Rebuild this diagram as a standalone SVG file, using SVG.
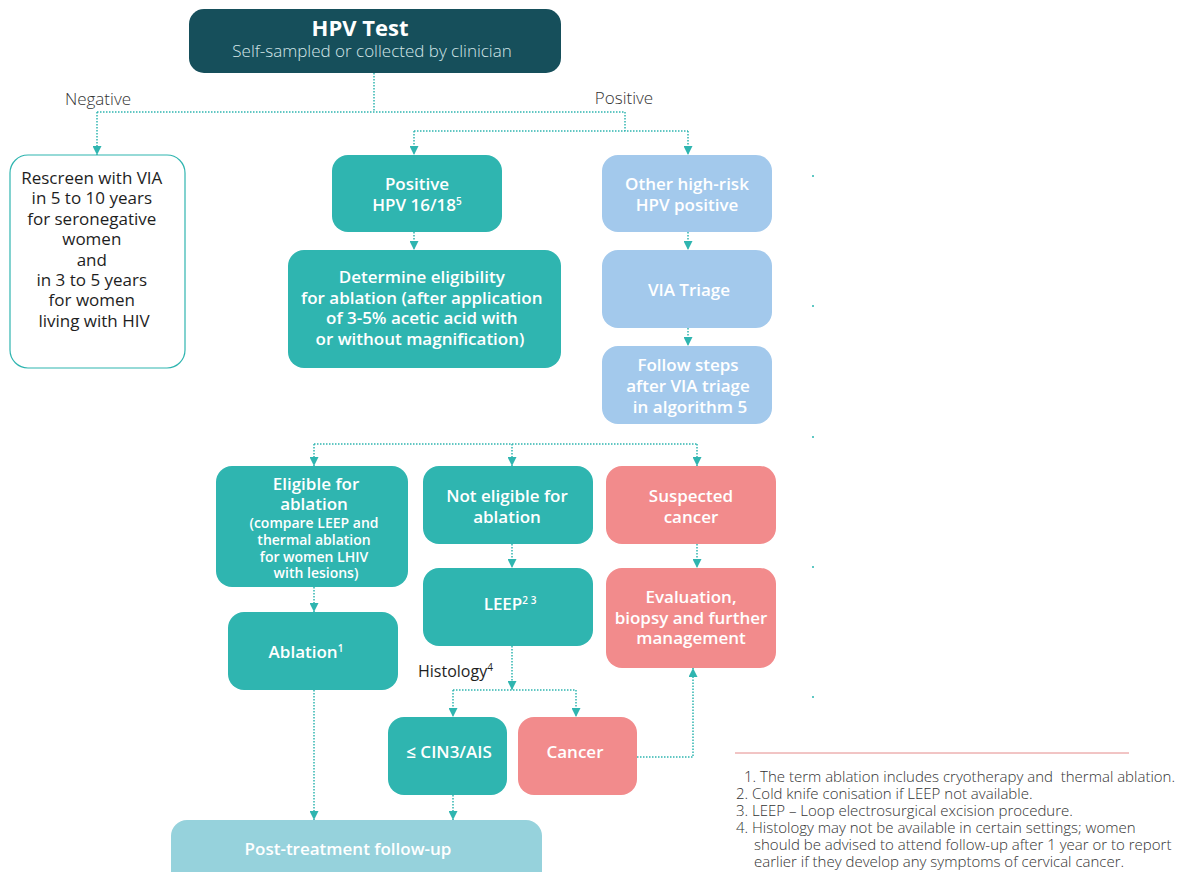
<svg xmlns="http://www.w3.org/2000/svg" width="1187" height="872" viewBox="0 0 1187 872">
  <style>
    text { font-family: "Open Sans", "Liberation Sans", sans-serif; }
    .box-text { fill: #ffffff; font-size: 17px; font-weight: 600; text-anchor: middle; }
    .small-text { fill: #ffffff; font-size: 14px; font-weight: 600; text-anchor: middle; }
    .dark-text { fill: #1e1e1e; font-size: 17px; text-anchor: middle; }
    .label { fill: #333333; font-size: 17px; font-weight: 300; text-anchor: middle; }
    .note { fill: #333333; font-size: 15px; font-weight: 300; }
    .teal { fill: #2fb5b0; }
    .blue { fill: #a3c9ec; }
    .pink { fill: #f28b8c; }
    .conn { fill: none; stroke: #2fb5b0; stroke-width: 1.5; stroke-dasharray: 1.5 1.5; }
    .sup { font-size: 10px; }
  </style>
  <defs>
    <marker id="arrow" viewBox="0 0 10 10" refX="10" refY="5" markerWidth="11" markerHeight="9" markerUnits="userSpaceOnUse" orient="auto">
      <path d="M0,0 L10,5 L0,10 z" fill="#2fb5b0"/>
    </marker>
  </defs>

  <rect width="1187" height="872" fill="#ffffff"/>

  <!-- connectors -->
  <g id="connectors">
    <path class="conn" d="M374,73 V112 M97,112 H625"/>
    <path class="conn" d="M97,112 V155" marker-end="url(#arrow)"/>
    <path class="conn" d="M625,112 V131 M414,131 H688"/>
    <path class="conn" d="M414,131 V155" marker-end="url(#arrow)"/>
    <path class="conn" d="M688,131 V155" marker-end="url(#arrow)"/>
    <path class="conn" d="M414,232 V250" marker-end="url(#arrow)"/>
    <path class="conn" d="M688,232 V250" marker-end="url(#arrow)"/>
    <path class="conn" d="M688,328 V346" marker-end="url(#arrow)"/>
    <path class="conn" d="M314,444 H697"/>
    <path class="conn" d="M314,444 V466" marker-end="url(#arrow)"/>
    <path class="conn" d="M512,444 V466" marker-end="url(#arrow)"/>
    <path class="conn" d="M697,444 V466" marker-end="url(#arrow)"/>
    <path class="conn" d="M314,587 V612" marker-end="url(#arrow)"/>
    <path class="conn" d="M512,544 V568" marker-end="url(#arrow)"/>
    <path class="conn" d="M697,544 V568" marker-end="url(#arrow)"/>
    <path class="conn" d="M512,646 V690" marker-end="url(#arrow)"/>
    <path class="conn" d="M453,690 H576"/>
    <path class="conn" d="M453,690 V717" marker-end="url(#arrow)"/>
    <path class="conn" d="M576,690 V717" marker-end="url(#arrow)"/>
    <path class="conn" d="M637,757 H693 V668" marker-end="url(#arrow)"/>
    <path class="conn" d="M314,690 V820" marker-end="url(#arrow)"/>
    <path class="conn" d="M453,795 V820" marker-end="url(#arrow)"/>
  </g>

  <!-- branch labels -->
  <text class="label" x="98" y="105">Negative</text>
  <text class="label" x="624" y="104">Positive</text>

  <g id="hpv-test">
    <rect x="189" y="9" width="372" height="64" rx="15" fill="#164f5b"/>
    <text x="360" y="36" fill="#ffffff" font-size="22" font-weight="700" text-anchor="middle">HPV Test</text>
    <text x="372" y="57" fill="#d4e6e8" font-size="17" font-weight="300" text-anchor="middle">Self-sampled or collected by clinician</text>
  </g>

  <g id="rescreen">
    <rect x="10" y="155" width="175" height="213" rx="18" fill="#ffffff" stroke="#2fb5b0" stroke-width="1.2"/>
    <text class="dark-text" x="94">
      <tspan x="94" y="184">Rescreen with VIA</tspan>
      <tspan x="94" y="204">in 5 to 10 years</tspan>
      <tspan x="94" y="225">for seronegative</tspan>
      <tspan x="94" y="245">women</tspan>
      <tspan x="94" y="266">and</tspan>
      <tspan x="94" y="286">in 3 to 5 years</tspan>
      <tspan x="94" y="306">for women</tspan>
      <tspan x="94" y="327">living with HIV</tspan>
    </text>
  </g>

  <g id="positive-16-18">
    <rect class="teal" x="332" y="155" width="170" height="77" rx="16"/>
    <text class="box-text"><tspan x="417" y="190">Positive</tspan><tspan x="417" y="211">HPV 16/18<tspan class="sup" dy="-6">5</tspan></tspan></text>
  </g>

  <g id="determine-eligibility">
    <rect class="teal" x="288" y="250" width="273" height="118" rx="16"/>
    <text class="box-text">
      <tspan x="424" y="283">Determine eligibility</tspan>
      <tspan x="424" y="304">for ablation (after application</tspan>
      <tspan x="424" y="324">of 3-5% acetic acid with</tspan>
      <tspan x="420" y="345">or without magnification)</tspan>
    </text>
  </g>

  <g id="other-high-risk">
    <rect class="blue" x="602" y="155" width="170" height="77" rx="16"/>
    <text class="box-text"><tspan x="687" y="190">Other high-risk</tspan><tspan x="687" y="211">HPV positive</tspan></text>
  </g>

  <g id="via-triage">
    <rect class="blue" x="602" y="250" width="170" height="78" rx="16"/>
    <text class="box-text" x="689" y="296">VIA Triage</text>
  </g>

  <g id="follow-steps">
    <rect class="blue" x="602" y="346" width="170" height="78" rx="16"/>
    <text class="box-text"><tspan x="688" y="371">Follow steps</tspan><tspan x="688" y="392">after VIA triage</tspan><tspan x="690" y="413">in algorithm 5</tspan></text>
  </g>

  <g id="eligible">
    <rect class="teal" x="216" y="466" width="192" height="121" rx="16"/>
    <text class="box-text"><tspan x="316" y="490">Eligible for</tspan><tspan x="314" y="510">ablation</tspan></text>
    <text class="small-text"><tspan x="314" y="528">(compare LEEP and</tspan><tspan x="314" y="545">thermal ablation</tspan><tspan x="314" y="562">for women LHIV</tspan><tspan x="316" y="578">with lesions)</tspan></text>
  </g>

  <g id="not-eligible">
    <rect class="teal" x="423" y="466" width="170" height="78" rx="16"/>
    <text class="box-text"><tspan x="507" y="502">Not eligible for</tspan><tspan x="507" y="523">ablation</tspan></text>
  </g>

  <g id="suspected-cancer">
    <rect class="pink" x="606" y="466" width="170" height="78" rx="16"/>
    <text class="box-text"><tspan x="691" y="502">Suspected</tspan><tspan x="691" y="523">cancer</tspan></text>
  </g>

  <g id="ablation">
    <rect class="teal" x="228" y="612" width="170" height="78" rx="16"/>
    <text class="box-text" x="306" y="658">Ablation<tspan class="sup" dy="-6">1</tspan></text>
  </g>

  <g id="leep">
    <rect class="teal" x="423" y="568" width="170" height="78" rx="16"/>
    <text class="box-text" x="510" y="610">LEEP<tspan class="sup" dy="-6">2 3</tspan></text>
  </g>

  <g id="evaluation">
    <rect class="pink" x="606" y="568" width="170" height="100" rx="16"/>
    <text class="box-text"><tspan x="691" y="603">Evaluation,</tspan><tspan x="691" y="624">biopsy and further</tspan><tspan x="691" y="644">management</tspan></text>
  </g>

  <text x="418" y="677" fill="#1e1e1e" font-size="16">Histology<tspan class="sup" dy="-6">4</tspan></text>

  <g id="cin3">
    <rect class="teal" x="388" y="717" width="119" height="78" rx="16"/>
    <text class="box-text" x="449" y="758">≤ CIN3/AIS</text>
  </g>

  <g id="cancer">
    <rect class="pink" x="518" y="717" width="119" height="78" rx="16"/>
    <text class="box-text" x="575" y="758">Cancer</text>
  </g>

  <g id="post-treatment">
    <rect x="171" y="820" width="371" height="70" rx="16" fill="#96d2dc"/>
    <text class="box-text" x="348" y="855">Post-treatment follow-up</text>
  </g>

  <!-- small marks on the right -->
  <g fill="#5fc8c4">
    <rect x="812" y="175" width="2" height="2"/>
    <rect x="812" y="305" width="2" height="2"/>
    <rect x="812" y="436" width="2" height="2"/>
    <rect x="812" y="566" width="2" height="2"/>
    <rect x="812" y="696" width="2" height="2"/>
  </g>

  <!-- footnotes -->
  <line x1="735" y1="753" x2="1129" y2="753" stroke="#e48a8a" stroke-width="1"/>
  <text class="note">
    <tspan x="744" y="782">1. The term ablation includes cryotherapy and&#160; thermal ablation.</tspan>
    <tspan x="736" y="799">2. Cold knife conisation if LEEP not available.</tspan>
    <tspan x="736" y="816">3. LEEP – Loop electrosurgical excision procedure.</tspan>
    <tspan x="736" y="833">4. Histology may not be available in certain settings; women</tspan>
    <tspan x="754" y="850">should be advised to attend follow-up after 1 year or to report</tspan>
    <tspan x="754" y="867">earlier if they develop any symptoms of cervical cancer.</tspan>
  </text>
</svg>
